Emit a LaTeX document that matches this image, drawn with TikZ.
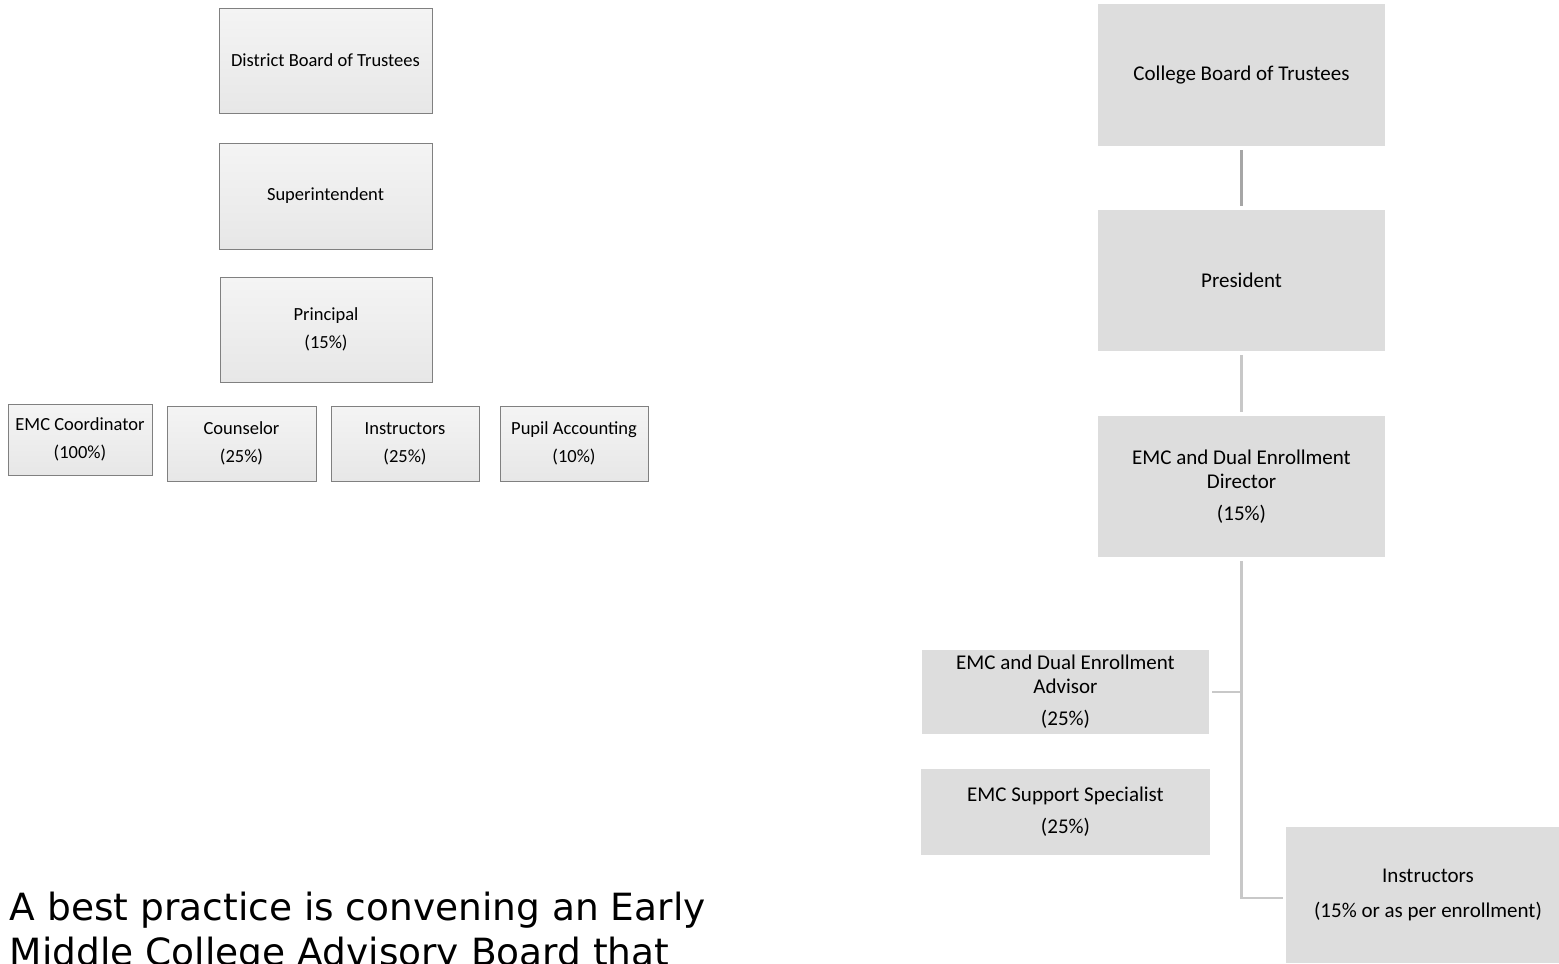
\documentclass[tikz,border=0pt]{standalone}
\usepackage{fontspec}
\setmainfont{Carlito}
\newfontfamily\parafont{DejaVu Sans}
\definecolor{ltop}{RGB}{244,244,244}
\definecolor{lbot}{RGB}{231,231,231}
\definecolor{lborder}{RGB}{128,128,128}
\definecolor{rfill}{RGB}{221,221,221}
\definecolor{conndark}{RGB}{166,166,166}
\definecolor{connlight}{RGB}{200,200,200}
\tikzset{
  lbox/.style={draw=lborder, line width=0.5pt, top color=ltop, bottom color=lbot,
    inner sep=0pt, align=center, font=\fontsize{9.25}{14}\selectfont},
  rbox/.style={fill=rfill, draw=none, inner sep=0pt, align=center,
    font=\fontsize{10.5}{12}\selectfont},
  conn/.style={draw=connlight, line width=1.25pt},
  paratext/.style={anchor=base west, inner sep=0pt, font=\parafont\fontsize{18.75}{22.8}\selectfont}
}
\begin{document}
\begin{tikzpicture}[x=0.5pt,y=-0.5pt]
\useasboundingbox (0,0) rectangle (1559,964);
\clip (0,0) rectangle (1559,964);
% left chart
\node[lbox, minimum width=106.5pt, minimum height=52.5pt] (dbt) at (325.5,60.5) {District Board of Trustees};
\node[lbox, minimum width=106.5pt, minimum height=53pt] (sup) at (325.5,196) {Superintendent};
\node[lbox, minimum width=106pt, minimum height=52.5pt] (pri) at (326,329.5) {Principal\\(15\%)};
\node[lbox, minimum width=72pt, minimum height=35.5pt] (emc) at (80,439.5) {EMC Coordinator\\(100\%)};
\node[lbox, minimum width=74.5pt, minimum height=37.5pt] (cou) at (241.5,443.5) {Counselor\\(25\%)};
\node[lbox, minimum width=74pt, minimum height=37.5pt] (ins) at (405,443.5) {Instructors\\(25\%)};
\node[lbox, minimum width=74pt, minimum height=37.5pt] (pup) at (574,443.5) {Pupil Accounting\\(10\%)};
% right chart
\node[rbox, minimum width=143.5pt, minimum height=71pt] (cbt) at (1241.5,75) {College Board of Trustees};
\node[rbox, minimum width=143.5pt, minimum height=70.5pt] (pres) at (1241.5,280.5) {President};
\node[rbox, minimum width=143.5pt, minimum height=70.5pt] (dir) at (1241.5,486.5) {EMC and Dual Enrollment\\Director\\[4pt](15\%)};
\node[rbox, minimum width=143.5pt, minimum height=42pt] (adv) at (1065.5,692) {EMC and Dual Enrollment\\Advisor\\[4pt](25\%)};
\node[rbox, minimum width=144.5pt, minimum height=43pt] (sspec) at (1065.5,812) {EMC Support Specialist\\[4pt](25\%)};
\node[rbox, minimum width=142pt, minimum height=68pt] (ins2) at (1428,895) {Instructors\\[5.5pt](15\% or as per enrollment)};
% connectors
\draw[conn, draw=conndark] ([yshift=-2pt]cbt.south) -- ([yshift=2pt]pres.north);
\draw[conn] ([yshift=-2pt]pres.south) -- ([yshift=2pt]dir.north);
\draw[conn] ([yshift=-2pt]dir.south) |- ([xshift=-1.5pt,yshift=-1.5pt]ins2.west);
\draw[conn] ([xshift=1.5pt]adv.east) -- (adv.east -| dir.south);
% paragraph text
\node[paratext] (para1) at (9.5,920) {A best practice is convening an Early};
\node[paratext] (para2) at (9.5,965.6) {Middle College Advisory Board that};
\end{tikzpicture}
\end{document}
